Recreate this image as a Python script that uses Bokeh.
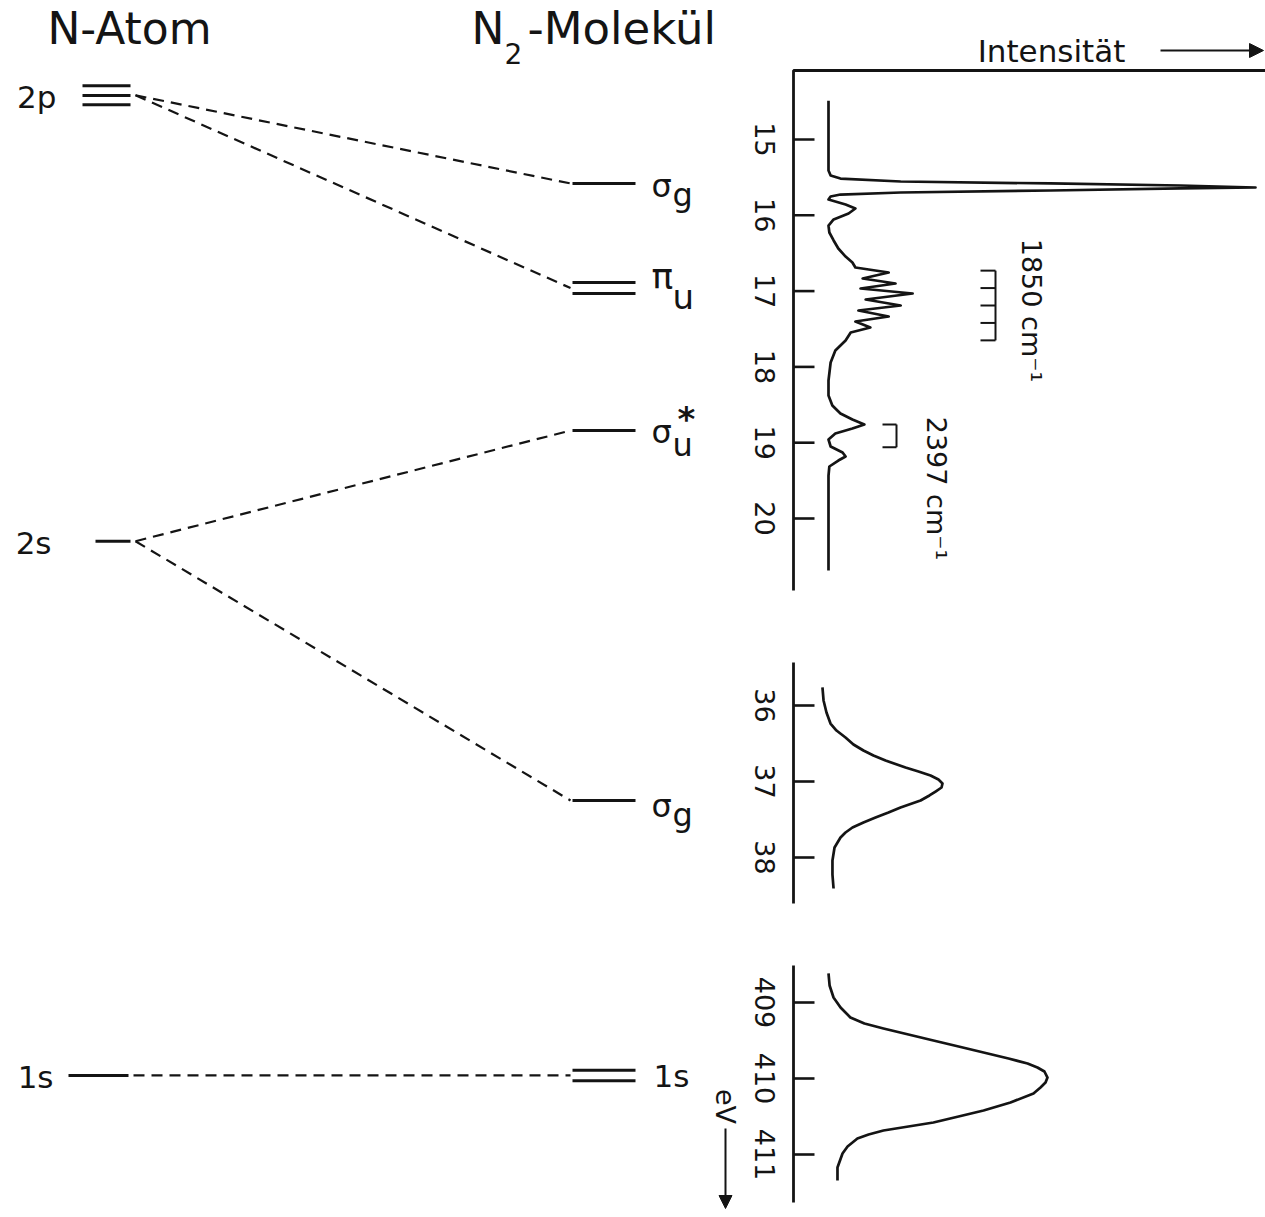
import math
from bokeh.plotting import figure
from bokeh.models import Range1d, Arrow, NormalHead
from bokeh.core.properties import value
from bokeh.embed import file_html
from bokeh.resources import INLINE

# ---------------- data ----------------
# Valence photoelectron spectrum (binding energy in eV, relative intensity)
top_energy = [14.49, 15.41, 15.475, 15.515, 15.554, 15.580, 15.607, 15.633, 15.646, 15.673,
              15.699, 15.726, 15.752, 15.792, 15.858, 15.910, 15.976, 16.055, 16.135, 16.227,
              16.332, 16.438, 16.544, 16.623, 16.689, 16.755, 16.834, 16.900, 16.966, 17.032,
              17.111, 17.190, 17.256, 17.335, 17.401, 17.480, 17.546, 17.652, 17.784, 17.942,
              18.179, 18.377, 18.509, 18.615, 18.694, 18.760, 18.813, 18.879, 18.958, 19.050,
              19.129, 19.182, 19.235, 19.314, 19.433, 20.686]
top_intensity = [0, 0, 0.5, 2.8, 16.9, 52.0, 82.4, 100, 82.4, 52.0,
                 16.9, 2.8, 0.5, 0, 4.0, 6.3, 4.7, 1.2, 0, 0.2,
                 1.2, 2.3, 4.0, 5.6, 6.3, 14.1, 8.0, 15.7, 7.5, 19.7,
                 8.7, 16.9, 7.0, 14.1, 6.3, 9.8, 5.2, 4.0, 1.6, 0.5,
                 0, 0, 0.9, 2.8, 5.6, 8.4, 5.6, 1.6, 0, 0.5,
                 3.3, 4.0, 2.3, 0.2, 0, 0]

# 2s sigma_g band
mid_energy = [35.763, 35.934, 36.092, 36.237, 36.329, 36.421, 36.513, 36.592, 36.658, 36.724,
              36.816, 36.868, 36.921, 36.974, 37.026, 37.079, 37.132, 37.184, 37.250, 37.342,
              37.408, 37.474, 37.539, 37.605, 37.671, 37.737, 37.868, 38.039, 38.224, 38.408]
mid_intensity = [1.6, 2.5, 4.9, 8.2, 13.1, 20.5, 27.0, 35.2, 43.4, 53.3,
                 69.7, 80.3, 90.2, 96.7, 100, 99.2, 94.3, 89.3, 82.0, 65.6,
                 55.7, 45.1, 35.2, 26.2, 20.5, 16.4, 11.5, 9.8, 9.8, 10.7]

# 1s core band
low_energy = [408.618, 408.776, 408.934, 409.066, 409.197, 409.276, 409.342, 409.421, 409.500, 409.579,
              409.658, 409.737, 409.803, 409.855, 409.908, 409.987, 410.053, 410.118, 410.197, 410.316,
              410.421, 410.500, 410.579, 410.632, 410.684, 410.737, 410.789, 410.895, 410.987, 411.171,
              411.342]
low_intensity = [0, 0.5, 2.3, 5.5, 10.0, 16.4, 25.1, 36.5, 47.9, 59.4,
                 70.8, 82.2, 90.9, 95.4, 98.6, 100, 99.1, 96.8, 93.6, 83.1,
                 70.8, 59.4, 47.9, 36.5, 25.1, 18.3, 13.2, 8.7, 6.4, 4.1,
                 4.1]

top_ticks = [15, 16, 17, 18, 19, 20]
mid_ticks = [36, 37, 38]
low_ticks = [409, 410, 411]

# vibrational combs (eV)
comb_1850 = [16.73, 16.96, 17.19, 17.42, 17.65]
comb_2397 = [18.76, 19.06]

# energy level diagram (eV, panel)
atom_names = ["2p", "2s", "1s"]
atom_energies = [[14.29, 14.42, 14.54], [20.30], [409.96]]
atom_panels = ["top", "top", "low"]

mol_names = ["σg", "πu", "σu*", "σg2s", "1s"]
mol_energies = [[15.58], [16.887, 17.032], [18.84], [37.25], [409.89, 410.03]]
mol_panels = ["top", "top", "top", "mid", "low"]

# correlation lines: (atom index, molecule index)
links = [(0, 0), (0, 1), (1, 2), (1, 3), (2, 4)]

# ---------------- layout / style ----------------
INK = "#141414"
FONT = "DejaVu Sans"
FX0, FY0, W, H = 0, 0, 1265, 1210

PANELS = {
    "top": dict(e_ref=15.0, y_ref=139.0, ppe=75.8, i0=828.0, i100=1255.0, axis=(70, 590)),
    "mid": dict(e_ref=37.0, y_ref=781.0, ppe=76.0, i0=820.0, i100=942.0, axis=(662, 903)),
    "low": dict(e_ref=410.0, y_ref=1078.0, ppe=76.0, i0=828.0, i100=1047.0, axis=(965, 1202)),
}
AXIS_X, TICK_X1, LABEL_X = 793, 814, 764


def e_at(px, c):
    return c["e_ref"] + (px - c["y_ref"]) / c["ppe"]


def i_at(px, c):
    return (px - c["i0"]) / (c["i100"] - c["i0"]) * 100.0


def to_px(e, panel):
    c = PANELS[panel]
    return c["y_ref"] + (e - c["e_ref"]) * c["ppe"]


p = figure(width=W, height=H, x_range=Range1d(FX0, FX0 + W), y_range=Range1d(FY0 + H, FY0),
           output_backend="svg", toolbar_location=None, x_axis_type=None, y_axis_type=None,
           min_border=0, outline_line_color=None,
           background_fill_color="white", border_fill_color="white")
p.xgrid.visible = False
p.ygrid.visible = False

p.extra_y_ranges = {n: Range1d(start=e_at(FY0 + H, c), end=e_at(FY0, c)) for n, c in PANELS.items()}
p.extra_x_ranges = {n: Range1d(start=i_at(FX0, c), end=i_at(FX0 + W, c)) for n, c in PANELS.items()}


def txt(x, y, s, size, align="left", baseline="middle", angle=0.0, style="normal", yr=None):
    kw = {"y_range_name": yr} if yr else {}
    p.text(x=[x], y=[y], text=[s], text_font=value(FONT), text_font_size=value(f"{size}px"),
           text_align=align, text_baseline=baseline, angle=angle, text_color=INK,
           text_font_style=style, **kw)


# ---------------- spectra ----------------
for name, en, it in [("top", top_energy, top_intensity),
                     ("mid", mid_energy, mid_intensity),
                     ("low", low_energy, low_intensity)]:
    p.line(x=it, y=en, x_range_name=name, y_range_name=name, line_color=INK, line_width=2.7,
           line_join="round")

# axes
a0, a1 = PANELS["top"]["axis"]
p.line(x=[FX0 + W, AXIS_X, AXIS_X], y=[a0, a0, a1], line_color=INK, line_width=2.8)
for n in ["mid", "low"]:
    a0, a1 = PANELS[n]["axis"]
    p.line(x=[AXIS_X, AXIS_X], y=[a0, a1], line_color=INK, line_width=2.8)

for name, ticks in [("top", top_ticks), ("mid", mid_ticks), ("low", low_ticks)]:
    p.segment(x0=[AXIS_X] * len(ticks), x1=[TICK_X1] * len(ticks), y0=ticks, y1=ticks,
              y_range_name=name, line_color=INK, line_width=2.6)
    p.text(x=[LABEL_X] * len(ticks), y=ticks, text=[str(t) for t in ticks], y_range_name=name,
           text_font=value(FONT), text_font_size=value("27px"), text_align="center",
           text_baseline="middle", angle=-math.pi / 2, text_color=INK)

# vibrational combs
p.segment(x0=[980] * len(comb_1850), x1=[995] * len(comb_1850), y0=comb_1850, y1=comb_1850,
          y_range_name="top", line_color=INK, line_width=2)
p.segment(x0=[995], x1=[995], y0=[comb_1850[0]], y1=[comb_1850[-1]], y_range_name="top",
          line_color=INK, line_width=2)
p.segment(x0=[882] * len(comb_2397), x1=[896] * len(comb_2397), y0=comb_2397, y1=comb_2397,
          y_range_name="top", line_color=INK, line_width=2)
p.segment(x0=[896], x1=[896], y0=[comb_2397[0]], y1=[comb_2397[-1]], y_range_name="top",
          line_color=INK, line_width=2)
txt(1031, 310, "1850 cm⁻¹", 27, align="center", angle=-math.pi / 2)
txt(936, 488, "2397 cm⁻¹", 27, align="center", angle=-math.pi / 2)

# intensity and energy labels
txt(1051, 50, "Intensität", 31, align="center")
p.add_layout(Arrow(end=NormalHead(size=14, fill_color=INK, line_color=INK),
                   x_start=1160, y_start=50, x_end=1263, y_end=50, line_width=2, line_color=INK))
txt(725, 1106, "eV", 27, align="center", angle=-math.pi / 2)
p.add_layout(Arrow(end=NormalHead(size=13, fill_color=INK, line_color=INK),
                   x_start=725, y_start=1128, x_end=725, y_end=1208, line_width=2, line_color=INK))

# ---------------- level diagram ----------------
atom_x = {"2p": (82, 130), "2s": (95, 130), "1s": (68, 128)}
mol_x = (572, 635)

for nm, ens, pn in zip(atom_names, atom_energies, atom_panels):
    x0, x1 = atom_x[nm]
    p.segment(x0=[x0] * len(ens), x1=[x1] * len(ens), y0=ens, y1=ens, y_range_name=pn,
              line_color=INK, line_width=3)
for nm, ens, pn in zip(mol_names, mol_energies, mol_panels):
    p.segment(x0=[mol_x[0]] * len(ens), x1=[mol_x[1]] * len(ens), y0=ens, y1=ens,
              y_range_name=pn, line_color=INK, line_width=3)

# dashed correlation lines
xs0, ys0, xs1, ys1 = [], [], [], []
for ai, mi in links:
    ya = to_px(sum(atom_energies[ai]) / len(atom_energies[ai]), atom_panels[ai])
    ym = to_px(sum(mol_energies[mi]) / len(mol_energies[mi]), mol_panels[mi])
    xs0.append(atom_x[atom_names[ai]][1] + 5)
    ys0.append(ya)
    xs1.append(mol_x[0] - 2)
    ys1.append(ym)
p.segment(x0=xs0, y0=ys0, x1=xs1, y1=ys1, line_color=INK, line_width=2.2, line_dash="11 7")

# titles
txt(129, 28, "N-Atom", 44, align="center")
txt(471, 28, "N", 44)
txt(504, 53, "2", 28)
txt(527, 28, "-Molekül", 45)

# atom labels
for nm, ens, pn, xr in zip(atom_names, atom_energies, atom_panels, [56, 51, 53]):
    yl = to_px(sum(ens) / len(ens), pn)
    txt(xr, yl + 2, nm, 31, align="right")


# molecular labels
def mlabel(mi, main, sub, dmain, dsub, msize=32, ssize=32, star=False):
    e = mol_energies[mi]
    yl = to_px(sum(e) / len(e), mol_panels[mi])
    txt(651, yl + dmain, main, msize, baseline="alphabetic")
    txt(672, yl + dsub, sub, ssize, baseline="alphabetic")
    if star:
        txt(686, yl - 32, "*", 34, align="center", baseline="top", style="bold")


mlabel(0, "σ", "g", 3, 12)
mlabel(1, "π", "u", -12, 9, msize=36, ssize=34)
mlabel(2, "σ", "u", 1, 14, ssize=32, star=True)
mlabel(3, "σ", "g", 5, 14)
txt(653, to_px(sum(mol_energies[4]) / 2, "low") + 1, "1s", 31)

with open("out.html", "w", encoding="utf-8") as f:
    f.write(file_html(p, INLINE))
